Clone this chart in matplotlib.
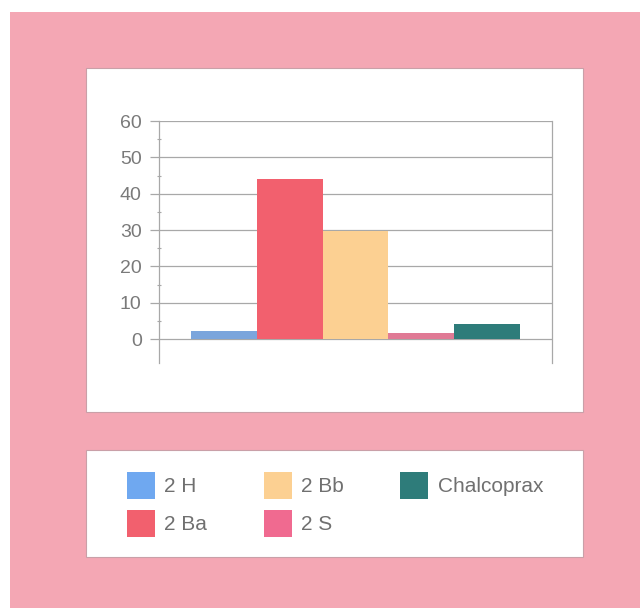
import matplotlib.pyplot as plt
from matplotlib.patches import Rectangle, Patch

plt.rcParams['font.family'] = ['Liberation Sans', 'DejaVu Sans']

series = ["2 H", "2 Ba", "2 Bb", "2 S", "Chalcoprax"]
values = [2.2, 44, 29.8, 1.6, 4]
bar_colors = ["#7ba5dc", "#f2606e", "#fcd092", "#e07a95", "#2e7c7a"]
legend_colors = ["#6fa8f0", "#f2606e", "#fcd092", "#f06a90", "#2e7c7a"]
yticks = [0, 10, 20, 30, 40, 50, 60]

W, H = 640, 608
fig = plt.figure(figsize=(6.4, 6.08), dpi=100)
fig.patch.set_facecolor("white")


def px_rect(x0, y0, x1, y1, **kw):
    r = Rectangle((x0 / W, 1 - y1 / H), (x1 - x0) / W, (y1 - y0) / H,
                  transform=fig.transFigure, **kw)
    fig.add_artist(r)


# pink frame and white panels
px_rect(10, 12, 640, 608, facecolor="#f4a7b4", edgecolor="none", zorder=0)
px_rect(86, 68, 583, 412, facecolor="white", edgecolor="#c9a0a8", lw=0.8, zorder=1)
px_rect(86, 450, 583, 557, facecolor="white", edgecolor="#c9a0a8", lw=0.8, zorder=1)

ax = fig.add_axes([159 / W, 1 - 363 / H, (552 - 159) / W, (363 - 121) / H])
ax.set_facecolor("none")
ax.set_zorder(2)

width = 0.167
offsets = [(i - 2) * width for i in range(len(series))]
for off, v, c, lab in zip(offsets, values, bar_colors, series):
    ax.bar(off, v, width=width, color=c, edgecolor="none", label=lab, zorder=3)

ax.set_xlim(-0.5, 0.5)
ax.set_ylim(-6.6, 60)
ax.set_yticks(yticks)
ax.set_yticks(range(5, 60, 10), minor=True)
ax.set_xticks([])
ax.yaxis.grid(True, color="#a8a8a8", lw=0.9)
ax.set_axisbelow(True)
for s in ["top", "bottom"]:
    ax.spines[s].set_visible(False)
for s in ["left", "right"]:
    ax.spines[s].set_color("#a8a8a8")
    ax.spines[s].set_linewidth(0.9)
ax.tick_params(axis="y", which="major", direction="out", length=6.5, width=0.9,
               color="#a8a8a8", labelsize=14, labelcolor="#7a7a7a", pad=6)
ax.tick_params(axis="y", which="minor", direction="inout", length=3, width=0.8,
               color="#a8a8a8")

handles = [Patch(facecolor=c, edgecolor="none") for c in legend_colors]
fig.legend(handles, series, loc="upper left", ncol=3,
           bbox_to_anchor=(127 / W, 1 - 472 / H), frameon=False,
           fontsize=15, labelcolor="#707070", handlelength=1.35, handleheight=1.6,
           handletextpad=0.45, columnspacing=2.7, labelspacing=0.55, borderpad=0,
           borderaxespad=0)

fig.savefig("out.png", dpi=100)
